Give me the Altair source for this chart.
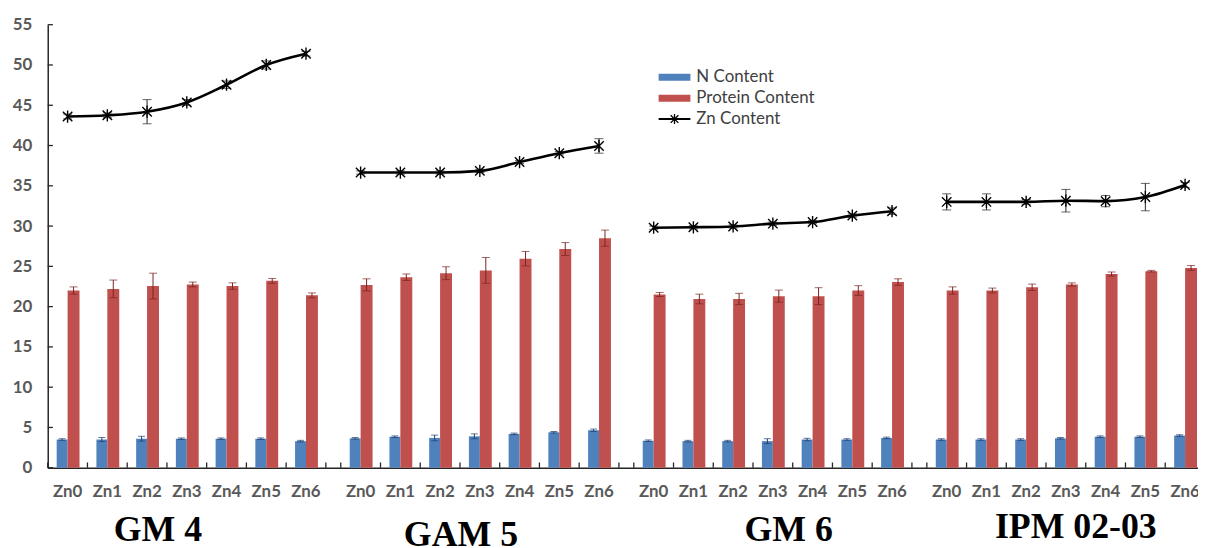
import altair as alt
import pandas as pd

groups = ["GM 4", "GAM 5", "GM 6", "IPM 02-03"]
treatments = ["Zn0", "Zn1", "Zn2", "Zn3", "Zn4", "Zn5", "Zn6"]

n_content = [
    [3.5, 3.5, 3.6, 3.6, 3.6, 3.6, 3.3],
    [3.65, 3.85, 3.7, 3.9, 4.2, 4.4, 4.65],
    [3.35, 3.3, 3.3, 3.3, 3.5, 3.5, 3.7],
    [3.5, 3.5, 3.5, 3.65, 3.85, 3.85, 4.0],
]
n_err = [
    [0.1, 0.25, 0.3, 0.1, 0.1, 0.1, 0.1],
    [0.1, 0.1, 0.35, 0.3, 0.1, 0.1, 0.15],
    [0.1, 0.1, 0.1, 0.3, 0.15, 0.1, 0.1],
    [0.1, 0.1, 0.1, 0.1, 0.1, 0.1, 0.1],
]
protein = [
    [22.0, 22.2, 22.55, 22.75, 22.55, 23.2, 21.4],
    [22.7, 23.65, 24.15, 24.5, 25.95, 27.15, 28.5],
    [21.5, 20.95, 20.95, 21.3, 21.3, 22.0, 23.05],
    [22.0, 22.0, 22.4, 22.75, 24.05, 24.4, 24.8],
]
protein_err = [
    [0.45, 1.1, 1.6, 0.3, 0.4, 0.3, 0.3],
    [0.75, 0.4, 0.8, 1.6, 0.9, 0.8, 1.0],
    [0.25, 0.6, 0.7, 0.75, 1.05, 0.6, 0.4],
    [0.45, 0.3, 0.4, 0.2, 0.25, 0.1, 0.3],
]
zn_content = [
    [43.6, 43.75, 44.2, 45.35, 47.55, 50.0, 51.4],
    [36.65, 36.65, 36.65, 36.85, 37.95, 39.05, 39.95],
    [29.8, 29.85, 29.95, 30.3, 30.5, 31.3, 31.85],
    [33.0, 33.0, 33.0, 33.15, 33.1, 33.6, 35.1],
]
zn_err = [
    [0.3, 0.3, 1.5, 0.35, 0.45, 0.5, 0.3],
    [0.2, 0.2, 0.2, 0.2, 0.2, 0.2, 0.9],
    [0.2, 0.2, 0.2, 0.2, 0.2, 0.2, 0.4],
    [1.0, 1.0, 0.3, 1.4, 0.7, 1.7, 0.3],
]
series_names = ["N Content", "Protein Content", "Zn Content"]
y_ticks = list(range(0, 56, 5))

# ---- layout constants ----
GROUP_STEP = 7.375          # category slots per group incl. gap
BLUE_W, RED_W = 0.275, 0.3  # bar widths in category units
W, H = 1158, 446
BLUE, RED = "#4F81BD", "#C0504D"
AXIS_C = "#262626"
XMIN = -0.5
XMAX = XMIN + W / 40.0
TICK_LEN_Y = 0.65   # inner x-axis tick length (data units)
TICK_LEN_X = 0.13   # inner y-axis tick length (data units)
GROUP_LABEL_NUDGE = [(-29, 0), (-19, 5), (16, 0), (10, -3)]  # (dx, dy) pixel nudges of group titles

rows = []
for g, grp in enumerate(groups):
    for i, t in enumerate(treatments):
        pos = g * GROUP_STEP + i
        rows.append(dict(
            group=grp, treatment=t, pos=pos,
            n=n_content[g][i], n_lo=n_content[g][i] - n_err[g][i], n_hi=n_content[g][i] + n_err[g][i],
            p=protein[g][i], p_lo=protein[g][i] - protein_err[g][i], p_hi=protein[g][i] + protein_err[g][i],
            zn=zn_content[g][i], zn_lo=zn_content[g][i] - zn_err[g][i], zn_hi=zn_content[g][i] + zn_err[g][i],
            bx1=pos - BLUE_W, bx2=pos, rx1=pos, rx2=pos + RED_W,
            bxc=pos - BLUE_W / 2, rxc=pos + RED_W / 2, zero=0.0,
        ))
df = pd.DataFrame(rows)

tick_rows = []
for g in range(len(groups)):
    for i in range(len(treatments) + 1):
        tick_rows.append(dict(x=g * GROUP_STEP + i - 0.5, y0=0.0, y1=TICK_LEN_Y))
ticks_df = pd.DataFrame(tick_rows)

grp_df = pd.DataFrame(dict(group=groups, gi=list(range(len(groups))),
                           pos=[g * GROUP_STEP + 3 for g in range(len(groups))]))
ytick_df = pd.DataFrame(dict(v=y_ticks, x0=[XMIN] * len(y_ticks), x1=[XMIN + TICK_LEN_X] * len(y_ticks)))

xs = alt.Scale(domain=[XMIN, XMAX], nice=False, zero=False)
ys = alt.Scale(domain=[0, 55], nice=False)
x_axis = alt.Axis(labels=False, ticks=False, title=None, grid=False, domainColor=AXIS_C, domainWidth=1.5)
y_axis = alt.Axis(values=y_ticks, ticks=False, labelPadding=16, labelFontSize=17, labelFont="Lato",
                  labelFontWeight="bold", labelColor="#595959", domainColor=AXIS_C, domainWidth=1.5,
                  grid=False, title=None)

def X(f):
    return alt.X(f"{f}:Q", scale=xs, axis=x_axis)

def Y(f):
    return alt.Y(f"{f}:Q", scale=ys, axis=y_axis)

base = alt.Chart(df)

blue_bars = base.mark_rect(color=BLUE).encode(x=X("bx1"), x2="bx2:Q", y=Y("n"), y2="zero:Q")
red_bars = base.mark_rect(color=RED).encode(x=X("rx1"), x2="rx2:Q", y=Y("p"), y2="zero:Q")

def errbars(xfield, lo, hi, color, cap=8, sw=1.0):
    r = base.mark_rule(color=color, strokeWidth=sw).encode(x=X(xfield), y=Y(lo), y2=f"{hi}:Q")
    c = base.transform_fold([lo, hi], as_=["k", "v"]).mark_tick(
        orient="horizontal", size=cap, thickness=sw, color=color).encode(x=X(xfield), y=Y("v"))
    return [r, c]

n_err_l = errbars("bxc", "n_lo", "n_hi", "#1F3F6E", cap=7)
p_err_l = errbars("rxc", "p_lo", "p_hi", "#7A2422", cap=8)
zn_err_l = errbars("pos", "zn_lo", "zn_hi", "#222222", cap=9)

zn_line = base.mark_line(color="black", strokeWidth=2.6, interpolate="monotone").encode(
    x=X("pos"), y=Y("zn"), detail="group:N")
ASTER = "M-1,-1L1,1M-1,1L1,-1M0,-1.3L0,1.3"
zn_pts = base.mark_point(shape=ASTER, size=90, filled=False, color="black", strokeWidth=1.4, opacity=1).encode(
    x=X("pos"), y=Y("zn"))

# inside ticks
xticks = alt.Chart(ticks_df).mark_rule(color=AXIS_C, strokeWidth=1.3).encode(x=X("x"), y=Y("y0"), y2="y1:Q")
yticks = alt.Chart(ytick_df).mark_rule(color=AXIS_C, strokeWidth=1.3).encode(x=X("x0"), x2="x1:Q", y=Y("v"))

cat_labels = base.mark_text(font="Lato", fontWeight="bold", fontSize=17, color="#595959",
                            baseline="middle").encode(x=X("pos"), y=alt.value(H + 24), text="treatment:N")
grp_labels = [
    alt.Chart(grp_df).transform_filter(f"datum.gi == {gi}").mark_text(
        font="Liberation Serif", fontWeight="bold", fontSize=36, color="black", baseline="alphabetic",
        dx=dx, dy=dy).encode(x=X("pos"), y=alt.value(H + 74), text="group:N")
    for gi, (dx, dy) in enumerate(GROUP_LABEL_NUDGE)
]

# legend (manual)
leg_x0, leg_x1, leg_tx = 615, 647, 653
leg_rows_y = [53, 74, 95]
leg_df = pd.DataFrame(dict(name=series_names, row=[0, 1, 2]))

def leg_sel(r):
    return alt.Chart(leg_df).transform_filter(f"datum.row == {r}")

leg_blue = leg_sel(0).mark_rect(color=BLUE).encode(
    x=alt.value(leg_x0), x2=alt.value(leg_x1), y=alt.value(leg_rows_y[0] - 3.5), y2=alt.value(leg_rows_y[0] + 3.5))
leg_red = leg_sel(1).mark_rect(color=RED).encode(
    x=alt.value(leg_x0), x2=alt.value(leg_x1), y=alt.value(leg_rows_y[1] - 3.5), y2=alt.value(leg_rows_y[1] + 3.5))
leg_line = leg_sel(2).mark_rule(color="black", strokeWidth=2).encode(
    x=alt.value(leg_x0), x2=alt.value(leg_x1), y=alt.value(leg_rows_y[2]))
leg_pt = leg_sel(2).mark_point(
    shape=ASTER, size=60, filled=False, color="black", strokeWidth=1.3, opacity=1).encode(
    x=alt.value((leg_x0 + leg_x1) / 2), y=alt.value(leg_rows_y[2]))
leg_texts = [
    leg_sel(r).mark_text(font="Lato", fontSize=17, color="#404040", align="left", baseline="middle").encode(
        x=alt.value(leg_tx), y=alt.value(leg_rows_y[r]), text="name:N")
    for r in range(3)
]

chart = alt.layer(
    blue_bars, red_bars, *n_err_l, *p_err_l, xticks, yticks, zn_line, *zn_err_l, zn_pts,
    cat_labels, *grp_labels, leg_blue, leg_red, leg_line, leg_pt, *leg_texts,
).properties(
    width=W, height=H,
    background="white",
    autosize=alt.AutoSizeParams(type="none"),
    padding={"left": 40, "top": 15, "right": 0, "bottom": 79},
).configure_view(stroke=None)

chart.save("out.html", embed_options={"renderer": "svg", "actions": False})
